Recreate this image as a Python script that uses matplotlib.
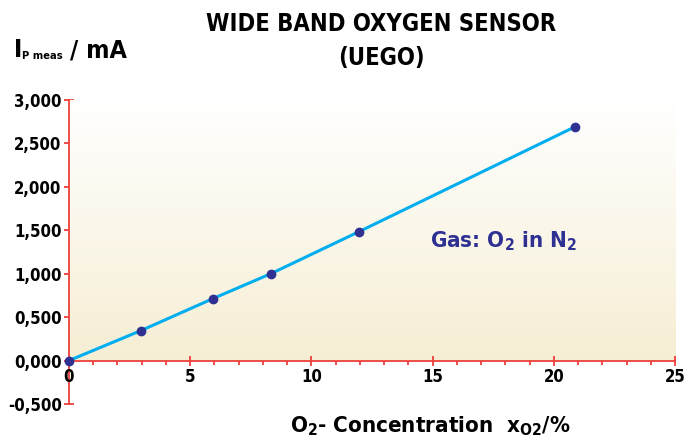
import numpy as np
import matplotlib.pyplot as plt
from matplotlib.ticker import MultipleLocator, FuncFormatter

plt.rcParams['font.family'] = ['DejaVu Sans']
plt.rcParams['font.stretch'] = 'condensed'
plt.rcParams['font.weight'] = 'bold'
plt.rcParams['mathtext.default'] = 'regular'

o2_conc = [0.0, 2.97, 5.94, 8.33, 11.96, 20.87]
ip_meas = [0.0, 0.345, 0.713, 1.0, 1.483, 2.69]

RED = '#ec4039'
NAVY = '#2e3192'
CYAN = '#00aeef'

fig = plt.figure(figsize=(6.99, 4.42), dpi=100)
ax = fig.add_axes([0.0987, 0.086, 0.867, 0.688])

# gradient background, white at top to beige at bottom; drawn over the inner half of y ticks
top = np.array([1.0, 1.0, 1.0])
bot = np.array([246, 238, 212]) / 255
t = np.linspace(0, 1, 256)[:, None]
grad = (top * (1 - t) + bot * t)[:, None, :]
ax.imshow(grad, extent=[0, 25, 0, 3], aspect='auto', zorder=3)

ax.plot(o2_conc, ip_meas, color=CYAN, lw=2.2, zorder=4)
ax.plot(o2_conc, ip_meas, 'o', color=NAVY, ms=6, zorder=5, clip_on=False)

ax.set_xlim(0, 25)
ax.set_ylim(-0.5, 3.0)
ax.set_facecolor('none')

for s in ['top', 'right']:
    ax.spines[s].set_visible(False)
ax.spines['bottom'].set_position(('data', 0))
for s in ['left', 'bottom']:
    ax.spines[s].set_color(RED)
    ax.spines[s].set_linewidth(1.3)
    ax.spines[s].set_zorder(3.6)
ax.xaxis.set_zorder(3.6)
ax.yaxis.set_zorder(2)

ax.xaxis.set_major_locator(MultipleLocator(5))
ax.xaxis.set_minor_locator(MultipleLocator(1))
ax.yaxis.set_major_locator(MultipleLocator(0.5))
ax.yaxis.set_major_formatter(FuncFormatter(lambda v, p: f'{v:.3f}'.replace('.', ',')))

ax.tick_params(axis='x', which='major', direction='inout', length=7, width=1.3,
               color=RED, labelsize=12, pad=2)
ax.tick_params(axis='x', which='minor', direction='out', length=3, width=1.3, color=RED)
ax.tick_params(axis='y', which='major', direction='inout', length=6.5, width=1.3,
               color=RED, labelsize=12, pad=2)

fig.text(0.545, 0.945, 'WIDE BAND OXYGEN SENSOR', ha='center', va='center', fontsize=17)
fig.text(0.545, 0.868, '(UEGO)', ha='center', va='center', fontsize=17)

# y axis title: I, small subscript, then / mA
fig.text(0.020, 0.871, 'I', ha='left', va='baseline', fontsize=18)
fig.text(0.0315, 0.867, 'P meas', ha='left', va='baseline', fontsize=8)
fig.text(0.100, 0.871, '/ mA', ha='left', va='baseline', fontsize=18)

fig.text(0.415, 0.035, r'O$_2$- Concentration  x$_{O2}$/%', ha='left', va='center', fontsize=16)
ax.text(14.9, 1.37, r'Gas: O$_2$ in N$_2$', color=NAVY, ha='left', va='center', fontsize=16)

fig.savefig('out.png', dpi=100)
